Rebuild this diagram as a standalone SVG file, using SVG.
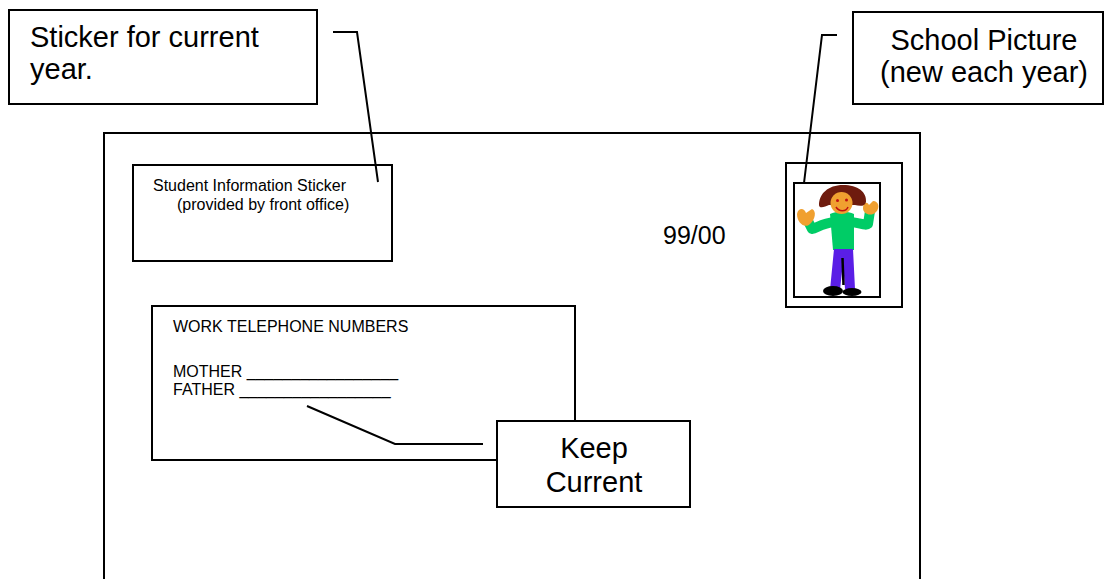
<svg xmlns="http://www.w3.org/2000/svg" width="1105" height="579" viewBox="0 0 1105 579">
<style>
.box{fill:#fff;stroke:#000;stroke-width:2}
.ln{fill:none;stroke:#000;stroke-width:2}
.t{font-family:"Liberation Sans",Arial,sans-serif;fill:#000}
.big{font-size:29px}
.sm{font-size:16px}
.arm{fill:none;stroke:#00cc66;stroke-width:10;stroke-linecap:round;stroke-linejoin:round}
</style>
<rect width="1105" height="579" fill="#fff"/>
<g id="card">
<rect class="box" x="104" y="133" width="816" height="460"/>
<text class="t" x="663" y="244" font-size="25">99/00</text>
</g>
<g id="student-sticker">
<rect class="box" x="133" y="165" width="259" height="96"/>
<text class="t sm" x="153" y="191">Student Information Sticker</text>
<text class="t sm" x="177" y="210">(provided by front office)</text>
</g>
<g id="work-phones">
<rect class="box" x="152" y="306" width="423" height="154"/>
<text class="t sm" x="173" y="332">WORK TELEPHONE NUMBERS</text>
<text class="t sm" x="173" y="377">MOTHER _________________</text>
<text class="t sm" x="173" y="395">FATHER _________________</text>
</g>
<g id="picture">
<rect class="box" x="786" y="163" width="116" height="144"/>
<rect class="box" x="794" y="183" width="86" height="114"/>
<g id="figure">
<path class="arm" d="M834 222 C824 223 816 228 812 229 L808 221"/>
<path class="arm" d="M851 222 C860 223 866 226 868 224 L870 211"/>
<path d="M830 214 C836 211 848 211 854 214 L854 250 L833 250 Z" fill="#00cc66"/>
<path d="M834 249 L853 249 L855 289 L845 289 L843 262 L840 290 L830 290 Z" fill="#5a1ee6"/>
<path d="M842.5 258 L843.5 285" stroke="#000" stroke-width="2.5"/>
<ellipse cx="833" cy="291" rx="10" ry="5" fill="#000"/>
<ellipse cx="852" cy="292" rx="9.5" ry="4" fill="#000"/>
<path d="M797 214 C798 208 804 207 806 213 L812 209 C817 211 815 220 810 224 C805 229 797 223 797 214 Z" fill="#f0a030"/>
<path d="M863 208 C863 203 867 201 869 205 L873 201 C879 201 880 208 876 212 C871 217 863 214 863 208 Z" fill="#f0a030"/>
<path d="M819 205 C819 194 828 185 843 185 C858 185 867 192 866 202 C865 207 859 206 855 205 L829 205 C825 207 819 209 819 205 Z" fill="#6e1b0e"/>
<circle cx="841.5" cy="203" r="11" fill="#f0a030"/>
<circle cx="837.5" cy="200.5" r="1.5" fill="#c01010"/>
<circle cx="846.5" cy="200" r="1.5" fill="#c01010"/>
<path d="M836 207 C839 212 846 212 848 207" fill="none" stroke="#c01010" stroke-width="1.5"/>
</g>
</g>
<g id="callout-sticker">
<rect class="box" x="9" y="10" width="308" height="94"/>
<text class="t big" x="30" y="47">Sticker for current</text>
<text class="t big" x="30" y="79">year.</text>
</g>
<g id="callout-picture">
<rect class="box" x="853" y="12" width="250" height="92"/>
<text class="t big" x="984" y="50" text-anchor="middle">School Picture</text>
<text class="t big" x="984" y="82" text-anchor="middle">(new each year)</text>
</g>
<g id="callout-keep">
<rect class="box" x="497" y="421" width="193" height="86"/>
<text class="t big" x="594" y="458" text-anchor="middle">Keep</text>
<text class="t big" x="594" y="492" text-anchor="middle">Current</text>
</g>
<g id="connectors">
<polyline class="ln" points="333,32 357,32 378,182"/>
<polyline class="ln" points="837,35 822,35 804,183"/>
<polyline class="ln" points="307,406 395,444 483,444"/>
</g>
</svg>
